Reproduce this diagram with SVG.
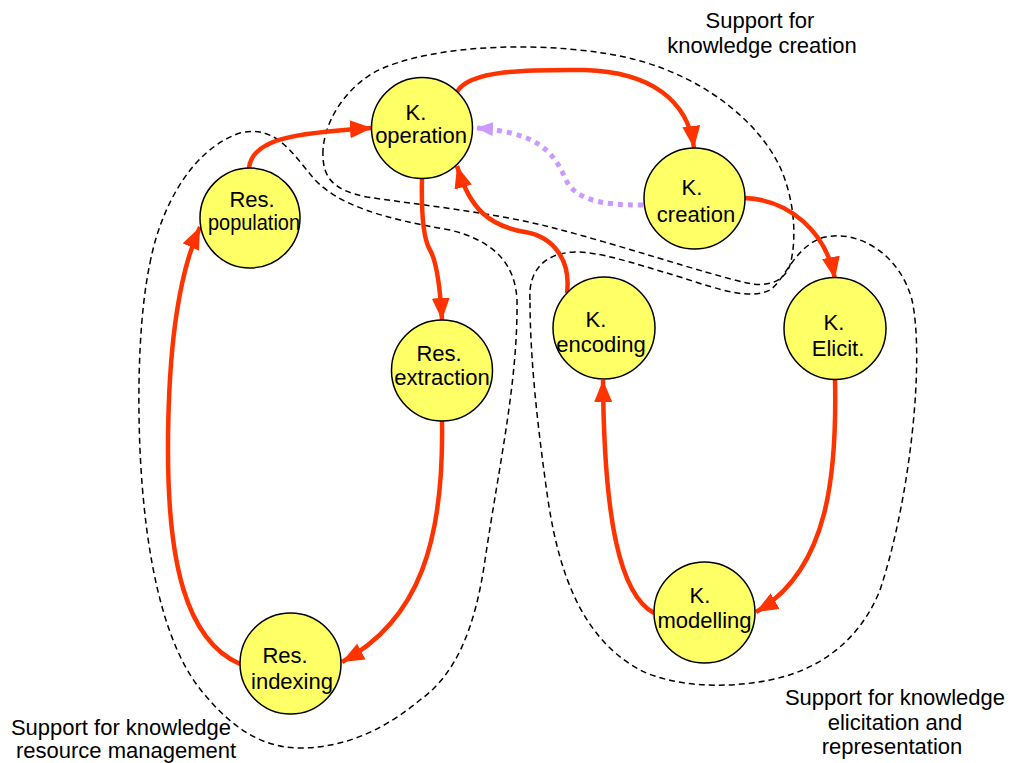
<svg xmlns="http://www.w3.org/2000/svg" width="1012" height="763" viewBox="0 0 1012 763">
<style>
.node{fill:#FFFF66;stroke:#000;stroke-width:1.5}
.nt{font-family:"Liberation Sans",Arial,sans-serif;font-size:22px;fill:#000;text-anchor:middle}
.lbl{font-family:"Liberation Sans",Arial,sans-serif;font-size:22px;fill:#000;text-anchor:middle}
.region{fill:none;stroke:#000;stroke-width:1.5;stroke-dasharray:6 4}
.edge{fill:none;stroke:#FF3300;stroke-width:4.5;marker-end:url(#ah)}
.edge2{fill:none;stroke:#CC99FF;stroke-width:5;stroke-dasharray:5 5;marker-end:url(#ah2)}
</style>
<defs>
<marker id="ah" markerUnits="userSpaceOnUse" markerWidth="22" markerHeight="18" refX="22" refY="9" orient="auto"><path d="M0,0 L22,9 L0,18 Z" fill="#FF3300"/></marker>
<marker id="ah2" markerUnits="userSpaceOnUse" markerWidth="18" markerHeight="14" refX="17" refY="7" orient="auto"><path d="M0,0 L17,7 L0,14 Z" fill="#CC99FF"/></marker>
</defs>
<rect width="1012" height="763" fill="#fff"/>
<g id="regions">
<path class="region" d="M323,150 C322,175 330,190 367,197 C420,205 490,212 550,227 C620,245 700,272 747,283 C770,288 785,280 790,265 C797,240 795,200 780,167 C760,125 710,80 637,60 C560,40 430,42 373,73 C345,90 325,120 323,150 Z"/>
<path class="region" d="M150,263 C160,210 190,150 240,133 C275,125 290,150 315,180 C340,205 380,218 450,230 C490,240 515,260 517,300 C518,380 500,460 485,560 C475,630 455,675 420,700 C390,725 350,748 300,748 C260,748 230,725 205,695 C165,650 145,560 140,450 C137,380 140,310 150,263 Z"/>
<path class="region" d="M530,300 C528,270 545,253 575,252 C600,252 630,262 680,277 C720,290 750,300 770,290 C785,280 795,245 825,237 C860,230 900,255 912,300 C925,360 910,500 880,590 C860,640 820,670 770,680 C720,690 670,685 640,670 C585,640 560,580 548,500 C538,430 530,360 530,300 Z"/>
</g>
<g id="connectors">
<path class="edge" d="M249,168 C252,140 290,133 372,128"/>
<path class="edge" d="M457,92 C470,68 540,70 585,70 C650,72 688,100 694,148"/>
<path class="edge2" d="M643,205 C600,205 575,200 565,178 C553,150 535,132 476,128"/>
<path class="edge" d="M422,178 C421,220 424,240 430,250 C437,262 440,285 442,320"/>
<path class="edge" d="M442,421 C444,540 420,620 342,662"/>
<path class="edge" d="M240,664 C185,640 168,560 168,450 C168,350 178,275 200,227"/>
<path class="edge" d="M567,293 C571,262 555,237 525,232 C490,226 470,210 457,166"/>
<path class="edge" d="M745,198 C790,200 826,232 835,279"/>
<path class="edge" d="M835,379 C837,470 830,570 756,612"/>
<path class="edge" d="M654,613 C620,595 604,520 603,380"/>
</g>
<g id="n-operation"><circle class="node" cx="422" cy="128" r="50.5"/><text class="nt" x="416" y="120">K.</text><text class="nt" x="421" y="143">operation</text></g>
<g id="n-creation"><circle class="node" cx="694.5" cy="198.5" r="50.5"/><text class="nt" x="692" y="195">K.</text><text class="nt" x="696" y="222">creation</text></g>
<g id="n-population"><circle class="node" cx="250" cy="218" r="50"/><text class="nt" x="252" y="207">Res.</text><text class="nt" x="254" y="230" textLength="92" lengthAdjust="spacingAndGlyphs">population</text></g>
<g id="n-extraction"><circle class="node" cx="442" cy="370.5" r="50.5"/><text class="nt" x="439" y="361">Res.</text><text class="nt" x="442" y="385">extraction</text></g>
<g id="n-indexing"><circle class="node" cx="290.5" cy="663.5" r="50.5"/><text class="nt" x="285" y="663">Res.</text><text class="nt" x="292" y="689">indexing</text></g>
<g id="n-encoding"><circle class="node" cx="604" cy="328" r="51"/><text class="nt" x="596" y="327">K.</text><text class="nt" x="601" y="352">encoding</text></g>
<g id="n-elicit"><circle class="node" cx="835" cy="328.5" r="51"/><text class="nt" x="834" y="330">K.</text><text class="nt" x="838" y="356">Elicit.</text></g>
<g id="n-modelling"><circle class="node" cx="704.5" cy="612.5" r="50.5"/><text class="nt" x="700" y="603">K.</text><text class="nt" x="704.5" y="628">modelling</text></g>
<g id="labels">
<text class="lbl" x="760" y="28">Support for</text>
<text class="lbl" x="762" y="53">knowledge creation</text>
<text class="lbl" x="121" y="735">Support for knowledge</text>
<text class="lbl" x="126" y="758">resource management</text>
<text class="lbl" x="895" y="705">Support for knowledge</text>
<text class="lbl" x="895" y="730">elicitation and</text>
<text class="lbl" x="892" y="754">representation</text>
</g>
</svg>
